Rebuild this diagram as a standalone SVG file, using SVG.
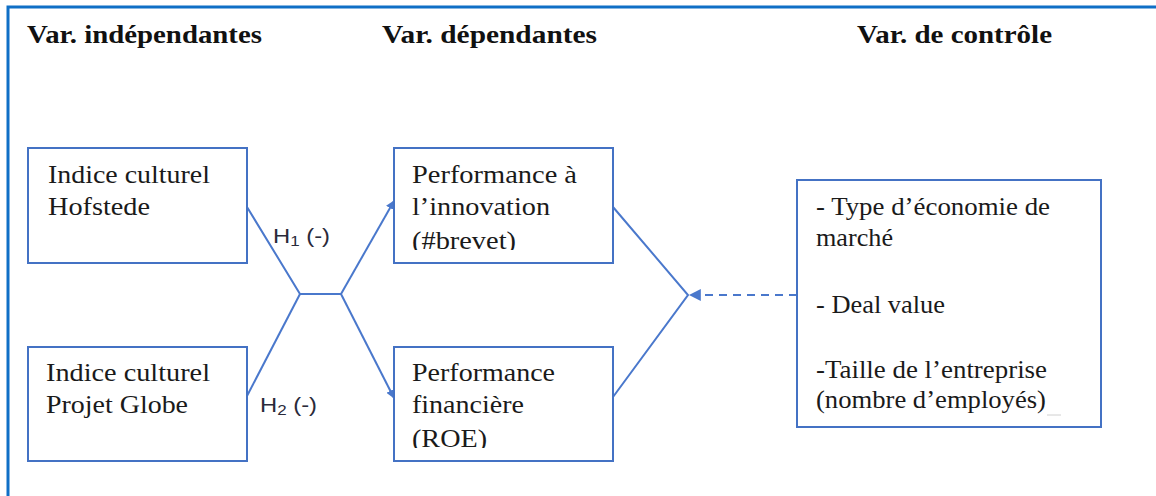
<svg xmlns="http://www.w3.org/2000/svg" width="1156" height="496" viewBox="0 0 1156 496">
  <style>
    .box { fill: #ffffff; stroke: #4472c4; stroke-width: 2; }
    .conn { fill: none; stroke: #4a78cc; stroke-width: 2; }
    .dash { stroke-dasharray: 8 6; }
    .hdr { font-family: "Liberation Serif", "DejaVu Serif", serif; font-weight: bold; font-size: 25px; fill: #111; }
    .txt { font-family: "Liberation Serif", "DejaVu Serif", serif; font-size: 25.5px; fill: #1a1a1a; }
    .lbl { font-family: "Liberation Sans", "Open Sans", sans-serif; font-size: 21px; fill: #2a2a3a; }
  </style>
  <defs>
    <marker id="arr" viewBox="0 0 10 10" refX="9" refY="5" markerWidth="9" markerHeight="9" markerUnits="userSpaceOnUse" orient="auto">
      <path d="M0,0 L10,5 L0,10 Z" fill="#4a78cc"/>
    </marker>
    <marker id="arr2" viewBox="0 0 10 10" refX="9" refY="5" markerWidth="12" markerHeight="12" markerUnits="userSpaceOnUse" orient="auto">
      <path d="M0,0 L10,5 L0,10 Z" fill="#4a78cc"/>
    </marker>
    <clipPath id="clip3"><rect x="395" y="149" width="217" height="101"/></clipPath>
    <clipPath id="clip4"><rect x="395" y="348" width="217" height="100"/></clipPath>
  </defs>

  <rect width="1156" height="496" fill="#ffffff"/>
  <path d="M8,496 V7 H1156" fill="none" stroke="#0f6fc6" stroke-width="3"/>

  <g id="headers">
    <text class="hdr" x="27" y="43" textLength="235" lengthAdjust="spacingAndGlyphs">Var. indépendantes</text>
    <text class="hdr" x="382" y="43" textLength="215" lengthAdjust="spacingAndGlyphs">Var. dépendantes</text>
    <text class="hdr" x="857" y="43" textLength="195" lengthAdjust="spacingAndGlyphs">Var. de contrôle</text>
  </g>

  <g id="connectors">
    <polyline class="conn" points="247,207 300,294 341,294"/>
    <line class="conn" x1="247" y1="396" x2="300" y2="294"/>
    <line class="conn" x1="341" y1="294" x2="394" y2="201" marker-end="url(#arr)"/>
    <line class="conn" x1="341" y1="294" x2="394" y2="398" marker-end="url(#arr)"/>
    <polyline class="conn" points="613,207 688,295 613,397"/>
    <line class="conn dash" x1="797" y1="295" x2="690" y2="295" marker-end="url(#arr2)"/>
    <text class="lbl" x="273" y="243" textLength="57" lengthAdjust="spacingAndGlyphs">H<tspan font-size="15" dy="3">1</tspan><tspan dy="-3"> (-)</tspan></text>
    <text class="lbl" x="260" y="412" textLength="57" lengthAdjust="spacingAndGlyphs">H<tspan font-size="15" dy="3">2</tspan><tspan dy="-3"> (-)</tspan></text>
  </g>

  <g id="node-hofstede">
    <rect class="box" x="28" y="148" width="219" height="115"/>
    <text class="txt" x="48" y="183" textLength="162" lengthAdjust="spacingAndGlyphs">Indice culturel</text>
    <text class="txt" x="48" y="215" textLength="102" lengthAdjust="spacingAndGlyphs">Hofstede</text>
  </g>

  <g id="node-globe">
    <rect class="box" x="28" y="347" width="219" height="114"/>
    <text class="txt" x="46" y="381" textLength="164" lengthAdjust="spacingAndGlyphs">Indice culturel</text>
    <text class="txt" x="46" y="413" textLength="142" lengthAdjust="spacingAndGlyphs">Projet Globe</text>
  </g>

  <g id="node-innovation">
    <rect class="box" x="394" y="148" width="219" height="115"/>
    <g clip-path="url(#clip3)">
      <text class="txt" x="412" y="183" textLength="165" lengthAdjust="spacingAndGlyphs">Performance à</text>
      <text class="txt" x="412" y="215" textLength="138" lengthAdjust="spacingAndGlyphs">l’innovation</text>
      <text class="txt" x="412" y="249" textLength="104" lengthAdjust="spacingAndGlyphs">(#brevet)</text>
    </g>
  </g>

  <g id="node-financiere">
    <rect class="box" x="394" y="347" width="219" height="114"/>
    <g clip-path="url(#clip4)">
      <text class="txt" x="412" y="381" textLength="143" lengthAdjust="spacingAndGlyphs">Performance</text>
      <text class="txt" x="412" y="413" textLength="112" lengthAdjust="spacingAndGlyphs">financière</text>
      <text class="txt" x="412" y="447" textLength="75" lengthAdjust="spacingAndGlyphs">(ROE)</text>
    </g>
  </g>

  <g id="node-controle">
    <rect class="box" x="797" y="180" width="304" height="247"/>
    <text class="txt" x="816" y="215" textLength="234" lengthAdjust="spacingAndGlyphs">- Type d’économie de</text>
    <text class="txt" x="816" y="246" textLength="77" lengthAdjust="spacingAndGlyphs">marché</text>
    <text class="txt" x="816" y="313" textLength="129" lengthAdjust="spacingAndGlyphs">- Deal value</text>
    <text class="txt" x="816" y="378" textLength="231" lengthAdjust="spacingAndGlyphs">-Taille de l’entreprise</text>
    <text class="txt" x="816" y="408" textLength="230" lengthAdjust="spacingAndGlyphs">(nombre d’employés)</text>
    <line x1="1047" y1="415" x2="1061" y2="415" stroke="#d0d0d0" stroke-width="1"/>
  </g>
</svg>
